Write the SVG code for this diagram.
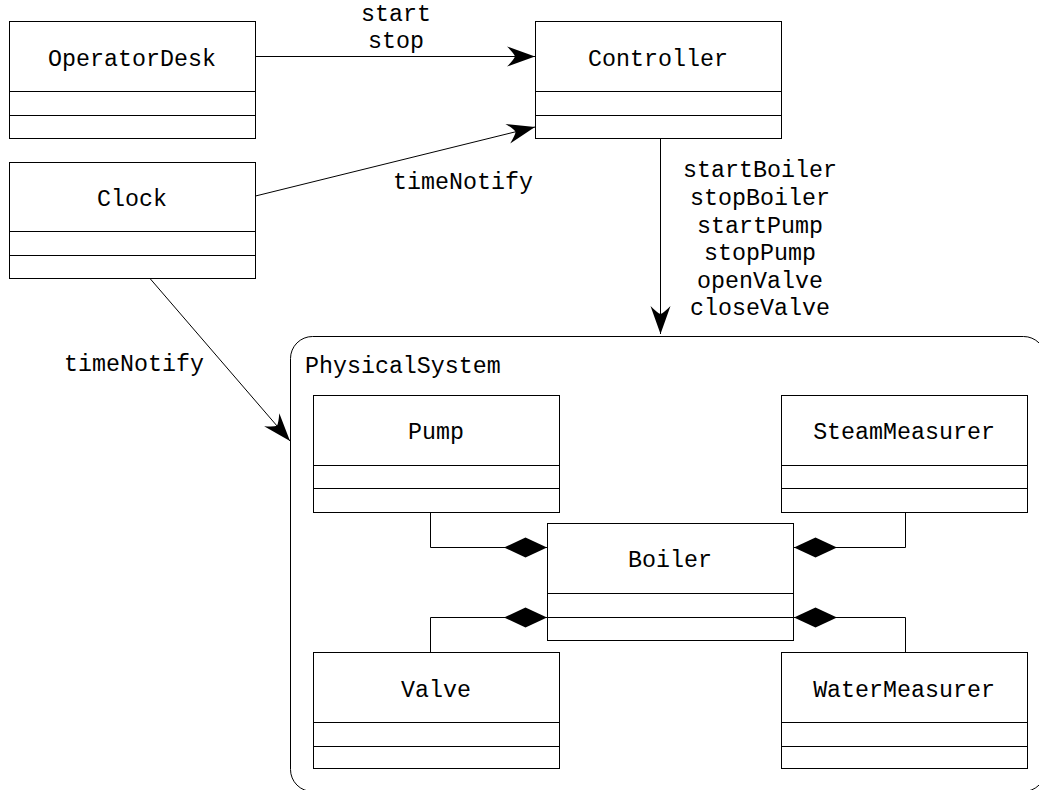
<svg xmlns="http://www.w3.org/2000/svg" width="1039" height="790" viewBox="0 0 1039 790">
<style>
  .box { fill: #ffffff; stroke: #000000; stroke-width: 1; }
  .div { stroke: #000000; stroke-width: 1; }
  .conn { fill: none; stroke: #000000; stroke-width: 1; }
  text { font-family: "Liberation Mono", "Courier New", monospace; font-size: 23.3px; fill: #000000; }
  .c { text-anchor: middle; }
</style>
<defs>
  <marker id="arrow" markerUnits="userSpaceOnUse" markerWidth="30" markerHeight="22" viewBox="-29 -11 30 22" refX="0" refY="0" orient="auto" overflow="visible">
    <path d="M0,0 L-28,-10 Q-21,-3 -20,0 Q-21,3 -28,10 Z" fill="#000000"/>
  </marker>
  <marker id="diamond" markerUnits="userSpaceOnUse" markerWidth="45" markerHeight="22" viewBox="-44 -11 45 22" refX="0" refY="0" orient="auto" overflow="visible">
    <path d="M0,0 L-21.5,-10 L-43,0 L-21.5,10 Z" fill="#000000"/>
  </marker>
</defs>
<rect width="1039" height="790" fill="#ffffff"/>

<g id="PhysicalSystem">
  <rect x="290.5" y="336.5" width="755" height="455" rx="22" ry="22" fill="none" stroke="#000000" stroke-width="1"/>
  <text x="305" y="373">PhysicalSystem</text>
</g>

<g id="OperatorDesk">
  <rect class="box" x="9.5" y="21.5" width="246" height="117"/>
  <line class="div" x1="9.5" y1="91.5" x2="255.5" y2="91.5"/>
  <line class="div" x1="9.5" y1="115.5" x2="255.5" y2="115.5"/>
  <text class="c" x="132" y="66">OperatorDesk</text>
</g>

<g id="Clock">
  <rect class="box" x="9.5" y="162.5" width="246" height="116"/>
  <line class="div" x1="9.5" y1="231.5" x2="255.5" y2="231.5"/>
  <line class="div" x1="9.5" y1="255.5" x2="255.5" y2="255.5"/>
  <text class="c" x="132" y="206">Clock</text>
</g>

<g id="Controller">
  <rect class="box" x="535.5" y="21.5" width="246" height="117"/>
  <line class="div" x1="535.5" y1="91.5" x2="781.5" y2="91.5"/>
  <line class="div" x1="535.5" y1="115.5" x2="781.5" y2="115.5"/>
  <text class="c" x="658" y="66">Controller</text>
</g>

<g id="Pump">
  <rect class="box" x="313.5" y="395.5" width="246" height="117"/>
  <line class="div" x1="313.5" y1="465.5" x2="559.5" y2="465.5"/>
  <line class="div" x1="313.5" y1="488.5" x2="559.5" y2="488.5"/>
  <text class="c" x="436" y="439">Pump</text>
</g>

<g id="SteamMeasurer">
  <rect class="box" x="781.5" y="395.5" width="246" height="117"/>
  <line class="div" x1="781.5" y1="465.5" x2="1027.5" y2="465.5"/>
  <line class="div" x1="781.5" y1="488.5" x2="1027.5" y2="488.5"/>
  <text class="c" x="904" y="439">SteamMeasurer</text>
</g>

<g id="Boiler">
  <rect class="box" x="547.5" y="523.5" width="246" height="117"/>
  <line class="div" x1="547.5" y1="593.5" x2="793.5" y2="593.5"/>
  <line class="div" x1="547.5" y1="617.5" x2="793.5" y2="617.5"/>
  <text class="c" x="670" y="567">Boiler</text>
</g>

<g id="Valve">
  <rect class="box" x="313.5" y="652.5" width="246" height="116"/>
  <line class="div" x1="313.5" y1="722.5" x2="559.5" y2="722.5"/>
  <line class="div" x1="313.5" y1="746.5" x2="559.5" y2="746.5"/>
  <text class="c" x="436" y="697">Valve</text>
</g>

<g id="WaterMeasurer">
  <rect class="box" x="781.5" y="652.5" width="246" height="116"/>
  <line class="div" x1="781.5" y1="722.5" x2="1027.5" y2="722.5"/>
  <line class="div" x1="781.5" y1="746.5" x2="1027.5" y2="746.5"/>
  <text class="c" x="904" y="697">WaterMeasurer</text>
</g>

<g id="connectors">
  <path class="conn" d="M255.5,56.5 H535" marker-end="url(#arrow)"/>
  <path class="conn" d="M255.5,196 L535,127" marker-end="url(#arrow)"/>
  <path class="conn" d="M660.5,138.5 V334" marker-end="url(#arrow)"/>
  <path class="conn" d="M150,278.5 L290,441" marker-end="url(#arrow)"/>
  <path class="conn" d="M430.5,512.5 V547.5 H547" marker-end="url(#diamond)"/>
  <path class="conn" d="M905.5,512.5 V547.5 H794" marker-end="url(#diamond)"/>
  <path class="conn" d="M430.5,652.5 V617.5 H547" marker-end="url(#diamond)"/>
  <path class="conn" d="M905.5,652.5 V617.5 H794" marker-end="url(#diamond)"/>
  <text class="c" x="396" y="21">start</text>
  <text class="c" x="396" y="48">stop</text>
  <text class="c" x="463" y="189">timeNotify</text>
  <text class="c" x="134" y="371">timeNotify</text>
  <text class="c" x="760" y="177">startBoiler</text>
  <text class="c" x="760" y="205">stopBoiler</text>
  <text class="c" x="760" y="233">startPump</text>
  <text class="c" x="760" y="260">stopPump</text>
  <text class="c" x="760" y="288">openValve</text>
  <text class="c" x="760" y="315">closeValve</text>
</g>
</svg>
